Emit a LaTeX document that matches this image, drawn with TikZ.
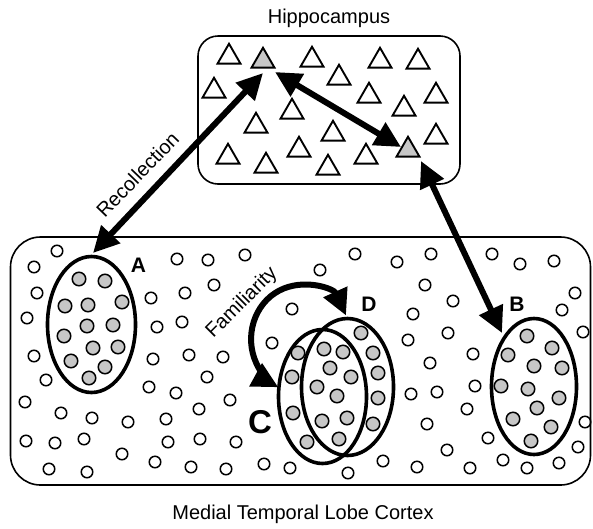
\documentclass[tikz,border=0pt]{standalone}
\usepackage{fontspec}
\setmainfont{Liberation Sans}
\usetikzlibrary{shapes.geometric,arrows.meta}
\definecolor{fillgray}{gray}{0.78}
\begin{document}
\begin{tikzpicture}[x=1pt,y=-1pt,
  frame/.style={draw, line width=1.6pt, inner sep=0pt},
  tri/.style={regular polygon, regular polygon sides=3, draw, line width=1.9pt, minimum size=26.5pt, inner sep=0pt},
  gtri/.style={tri, fill=fillgray},
  oc/.style={circle, draw, line width=1.5pt, minimum size=11.5pt, inner sep=0pt},
  gc/.style={circle, draw, fill=fillgray, line width=1.5pt, minimum size=13.5pt, inner sep=0pt},
  ell/.style={ellipse, draw, line width=3.6pt, inner sep=0pt},
  bigarrow/.style={line width=6pt, {Triangle[length=26pt,width=25pt]}-{Triangle[length=26pt,width=25pt]}},
  txt/.style={font=\fontsize{20}{24}\selectfont, inner sep=0pt},
  lab/.style={font=\fontsize{21}{24}\selectfont\bfseries, inner sep=0pt}
]
\useasboundingbox (0,0) rectangle (593,528);

% boxes
\node[frame, rounded corners=20pt, minimum width=262pt, minimum height=148pt] (hip) at (329,110) {};
\node[frame, rounded corners=30pt, minimum width=580pt, minimum height=248pt] (mtl) at (300.5,361) {};
\node[txt, anchor=base] (hiplab) at (329,23) {Hippocampus};
\node[txt, anchor=base] (mtllab) at (303,519) {Medial Temporal Lobe Cortex};

% triangles
\foreach \x/\y [count=\i] in {229/54, 312/57, 380/58, 418/59, 214/88, 339/75, 369/93, 436/93, 404/106, 292/109, 256/123, 333/131, 436/134, 228/154, 299/147, 366/154, 266/163, 328/165}
  \node[tri] (t\i) at (\x,\y+3) {};
\node[gtri] (g1) at (263,61) {};
\node[gtri] (g2) at (408,150) {};

% ellipses
\node[ell, minimum width=88pt, minimum height=136pt] (eA) at (91.5,324.5) {};
\node[ell, minimum width=88pt, minimum height=134pt] (eC) at (322.5,396.5) {};
\node[ell, minimum width=92pt, minimum height=137pt] (eD) at (347.5,387) {};
\node[ell, minimum width=85pt, minimum height=136pt] (eB) at (534,386.5) {};

% open circles
\foreach \x/\y [count=\i] in {57/251, 34/267, 37/293, 27/318, 34/356, 46/380, 25/402, 61/413, 92/418, 128/422, 26/441, 55/443, 84/439, 49/469, 87/472, 122/454, 155/462, 191/467, 226/469, 264/464, 290/468, 177/259, 208/260, 245/255, 214/285, 185/293, 151/298, 157/327, 182/322, 153/359, 189/355, 223/357, 207/377, 149/387, 176/393, 199/409, 230/400, 166/419, 168/442, 200/439, 236/442, 292/309, 272/343, 320/270, 383/461, 355/254, 397/262, 431/254, 425/285, 453/301, 413/314, 448/333, 408/340, 430/363, 473/354, 475/386, 437/392, 411/394, 467/409, 427/424, 447/450, 417/467, 348/473, 470/468, 488/438, 503/460, 527/468, 559/463, 578/447, 585/422, 492/254, 520/264, 554/261, 575/293, 562/310, 583/332}
  \node[oc] (o\i) at (\x,\y) {};

% gray circles in A
\foreach \x/\y [count=\i] in {79/279, 105/281, 65/306, 88/305, 122/302, 87/326, 113/325, 64/336, 93/348, 118/347, 71/361, 105/367, 89/378}
  \node[gc] (a\i) at (\x,\y) {};
% gray circles in C/D
\foreach \x/\y [count=\i] in {361/333, 298/353, 324/349, 343/352, 373/353, 330/368, 292/377, 351/377, 378/373, 317/387, 337/396, 378/398, 293/413, 322/421, 347/418, 373/424, 307/442, 339/439}
  \node[gc] (c\i) at (\x,\y) {};
% gray circles in B
\foreach \x/\y [count=\i] in {527/336, 552/348, 508/355, 534/366, 562/368, 501/386, 528/389, 559/398, 537/408, 513/419, 551/427, 531/441}
  \node[gc] (b\i) at (\x,\y) {};

% arrow end points
\coordinate (recTop) at (263,73);
\coordinate (recBot) at (93,253);
\coordinate (hipA) at (275,72);
\coordinate (hipB) at (401,147);
\coordinate (bTop) at (421,161);
\coordinate (bBot) at (502,333);
\coordinate (famD) at (346,315.5);

\draw[bigarrow] (recBot) -- (recTop);
\draw[bigarrow] (hipA) -- (hipB);
\draw[bigarrow] (bTop) -- (bBot);
\draw[bigarrow] (famD) arc[start angle=-26, end angle=-243, x radius=50, y radius=54];

% labels
\node[txt, rotate=46] (reclab) at (137.5,174.5) {Recollection};
\node[txt, rotate=45] (famlab) at (242,303) {Familiarity};
\node[lab] (labA) at (138.5,265.5) {A};
\node[lab] (labB) at (517,304.5) {B};
\node[lab] (labD) at (369,304) {D};
\node[font=\fontsize{33}{36}\selectfont\bfseries, inner sep=0pt] (labC) at (260,422) {C};
\end{tikzpicture}
\end{document}
